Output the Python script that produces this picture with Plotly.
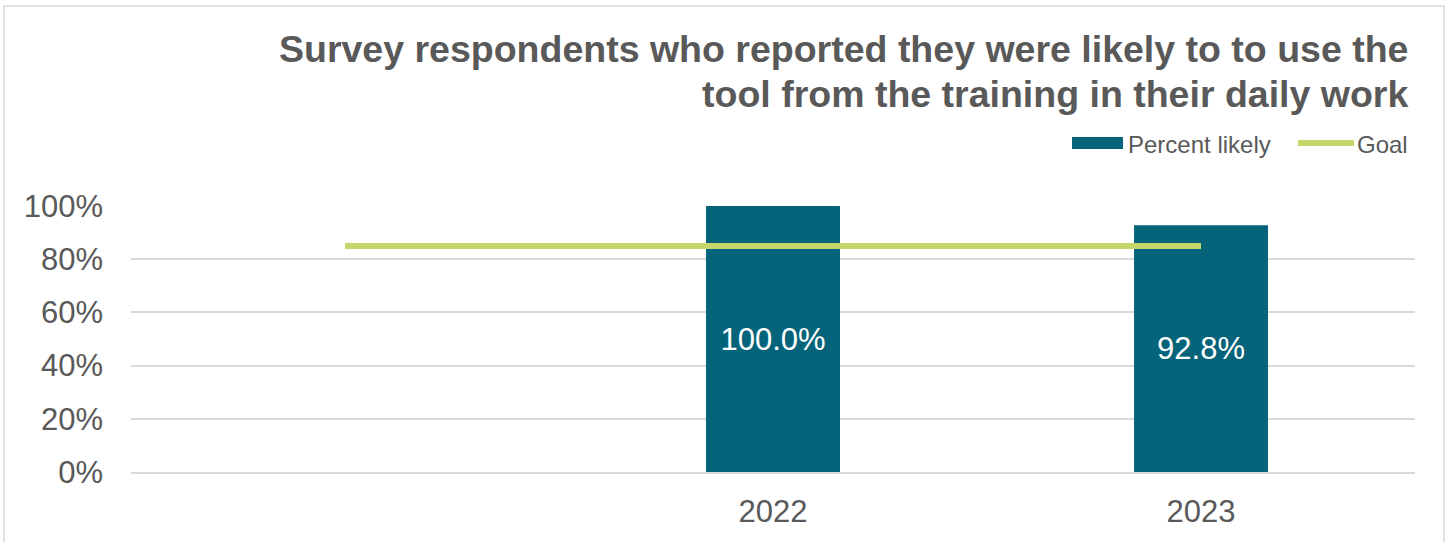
import plotly.graph_objects as go

categories = [" ", "2022", "2023"]
percent_likely = [None, 1.0, 0.928]
percent_labels = ["", "100.0%", "92.8%"]
goal = [0.85, 0.85, 0.85]
y_ticks = [0, 0.2, 0.4, 0.6, 0.8, 1.0]
y_tick_labels = ["0%", "20%", "40%", "60%", "80%", "100%"]

title_lines = [
    "Survey respondents who reported they were likely to to use the",
    "tool from the training in their daily work",
]

W, H = 1450, 542
L, R = 131, 1415
T, B = 206, 472

BAR = "#05637A"
GREEN = "#C5D76A"
GRAY = "#595959"
FONT = "Liberation Sans, Arial, sans-serif"


def px(x):
    return (x - L) / (R - L)


def py(y):
    return (B - y) / (B - T)


fig = go.Figure()
fig.add_trace(go.Bar(
    x=categories, y=percent_likely, name="Percent likely",
    marker=dict(color=BAR, line=dict(width=0)),
    text=percent_labels, textposition="inside", insidetextanchor="middle",
    textfont=dict(color="white", size=31, family=FONT),
    hoverinfo="skip",
))
fig.add_trace(go.Scatter(
    x=categories, y=goal, name="Goal", mode="lines",
    line=dict(color=GREEN, width=6),
    hoverinfo="skip",
))

shapes = [
    # outer frame
    dict(type="rect", xref="paper", yref="paper",
         x0=px(4), x1=px(1444), y0=py(560), y1=py(6),
         line=dict(color="#D9D9D9", width=1.5), fillcolor="rgba(0,0,0,0)", layer="below"),
    # legend symbols
    dict(type="rect", xref="paper", yref="paper",
         x0=px(1072), x1=px(1123), y0=py(149), y1=py(137),
         line=dict(width=0), fillcolor=BAR),
    dict(type="line", xref="paper", yref="paper",
         x0=px(1298), x1=px(1354), y0=py(143), y1=py(143),
         line=dict(color=GREEN, width=6)),
]

annotations = [
    dict(text=title_lines[0], xref="paper", yref="paper", x=px(1410), y=py(49),
         xanchor="right", yanchor="middle", showarrow=False,
         font=dict(size=37.5, color=GRAY, family=FONT, weight="bold")),
    dict(text=title_lines[1], xref="paper", yref="paper", x=px(1410), y=py(94),
         xanchor="right", yanchor="middle", showarrow=False,
         font=dict(size=37.5, color=GRAY, family=FONT, weight="bold")),
    dict(text="Percent likely", xref="paper", yref="paper", x=px(1126), y=py(144),
         xanchor="left", yanchor="middle", showarrow=False,
         font=dict(size=24, color=GRAY, family=FONT)),
    dict(text="Goal", xref="paper", yref="paper", x=px(1355), y=py(144),
         xanchor="left", yanchor="middle", showarrow=False,
         font=dict(size=24, color=GRAY, family=FONT)),
]

fig.update_layout(
    width=W, height=H,
    margin=dict(l=L, r=W - R, t=T, b=H - B, pad=0),
    paper_bgcolor="white", plot_bgcolor="white",
    showlegend=False,
    bargap=0.687,
    font=dict(family=FONT, color=GRAY),
    shapes=shapes, annotations=annotations,
)
fig.update_xaxes(
    type="category", categoryorder="array", categoryarray=categories,
    showgrid=False, showline=True, linecolor="#D9D9D9", linewidth=1.5,
    ticks="", tickfont=dict(size=31, color=GRAY, family=FONT),
    ticklabelstandoff=11,
)
fig.update_yaxes(
    range=[0, 1], tickvals=y_ticks, ticktext=y_tick_labels,
    showgrid=True, gridcolor="#D9D9D9", gridwidth=1.5,
    zeroline=False, showline=False, ticks="",
    tickfont=dict(size=31, color=GRAY, family=FONT),
    ticklabelstandoff=27,
)

fig.write_html("out.html")
